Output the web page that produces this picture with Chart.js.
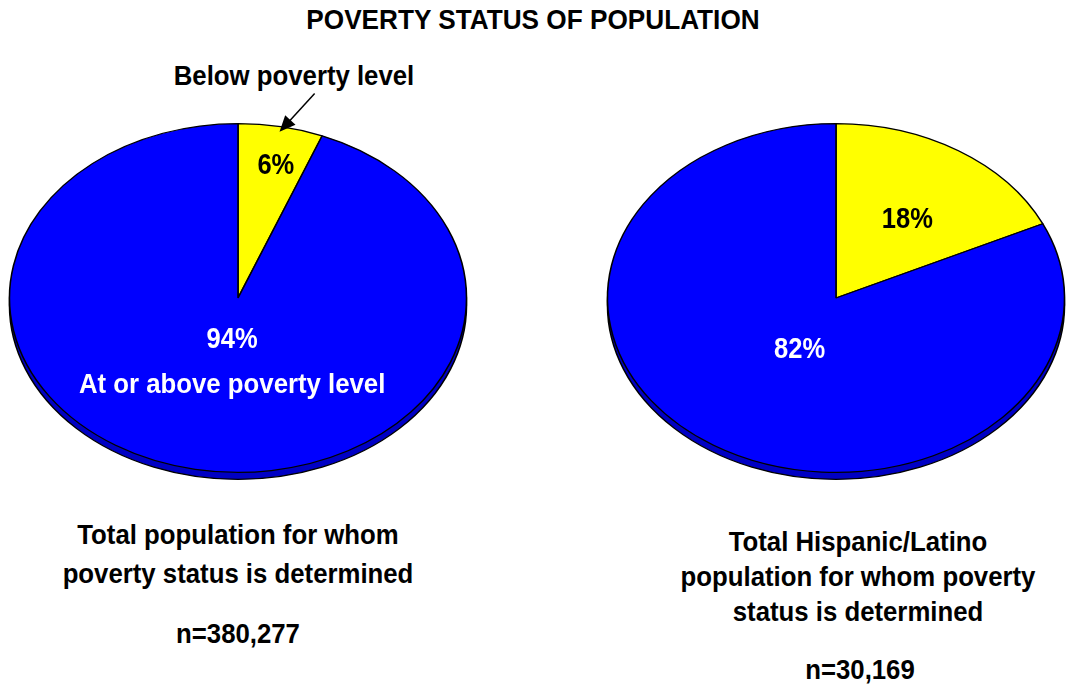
<!DOCTYPE html>
<html>
<head>
<meta charset="utf-8">
<script src="https://cdn.jsdelivr.net/npm/chart.js@4/dist/chart.umd.min.js"></script>
<style>
  body { margin: 0; background: #fff; width: 1066px; height: 692px; position: relative; overflow: hidden;
         font-family: "Liberation Sans Narrow", "Liberation Sans", Arial, sans-serif; font-weight: bold; }
  .t { position: absolute; text-align: center; color: #000; white-space: nowrap; transform: scaleX(0.92); }
</style>
</head>
<body>
<div class="t" style="left:0;width:1066px;top:4px;font-size:28px;transform:scaleX(0.935)">POVERTY STATUS OF POPULATION</div>
<div class="t" style="left:144px;width:300px;top:60px;font-size:28px">Below poverty level</div>

<div class="t" style="left:38px;width:400px;top:515px;font-size:28px;line-height:39px">Total population for whom<br>poverty status is determined</div>
<div class="t" style="left:38px;width:400px;top:618px;font-size:28px">n=380,277</div>

<div class="t" style="left:658px;width:400px;top:524px;font-size:28px;line-height:35px">Total Hispanic/Latino<br>population for whom poverty<br>status is determined</div>
<div class="t" style="left:660px;width:400px;top:654px;font-size:28px">n=30,169</div>

<div style="position:absolute;left:0;top:70px;width:476px;height:450px"><canvas id="pieTotal"></canvas></div>
<div style="position:absolute;left:598px;top:70px;width:476px;height:450px"><canvas id="pieHispanic"></canvas></div>

<script>
/* Poverty status, share of population (%) */
const categories = ["Below poverty level", "At or above poverty level"];
const totalPct = [6, 94];
const hispanicPct = [18, 82];
const sliceColors = ["#ffff00", "#0000ff"];
const labelColors = ["#000000", "#ffffff"];

const FONT = '"Liberation Sans Narrow", "Liberation Sans", Arial, sans-serif';
const SX = 228 / 174; // horizontal stretch to get the flat oval look

function narrowText(ctx, text, x, y, size, squeeze) {
  ctx.save();
  ctx.font = "bold " + size + "px " + FONT;
  ctx.translate(x, y);
  ctx.scale(squeeze, 1);
  ctx.fillText(text, 0, 0);
  ctx.restore();
}

/* squash the round pie into an oval and give it a dark edge underneath */
const ovalPie = {
  id: "ovalPie",
  beforeDatasetsDraw(chart) {
    const ctx = chart.ctx;
    const arc = chart.getDatasetMeta(0).data[0];
    const { x, y, outerRadius } = arc.getProps(["x", "y", "outerRadius"], true);
    ctx.save();
    ctx.translate(x, y);
    ctx.scale(SX, 1);
    ctx.translate(-x, -y);
    // depth edge
    ctx.beginPath();
    ctx.arc(x, y + 7, outerRadius, 0, Math.PI * 2);
    ctx.fillStyle = "#0000c4";
    ctx.fill();
    ctx.lineWidth = 1.2;
    ctx.strokeStyle = "#000";
    ctx.stroke();
  },
  afterDatasetsDraw(chart, args, opts) {
    const ctx = chart.ctx;
    ctx.restore();
    const meta = chart.getDatasetMeta(0);
    const values = chart.data.datasets[0].data;
    ctx.save();
    ctx.textAlign = "center";
    ctx.textBaseline = "middle";
    meta.data.forEach((el, i) => {
      const p = el.getProps(["x", "y", "startAngle", "endAngle", "outerRadius"], true);
      const mid = (p.startAngle + p.endAngle) / 2;
      const f = opts.labelRadius[i];
      const lx = p.x + SX * p.outerRadius * f * Math.cos(mid) + 4;
      const ly = p.y + p.outerRadius * f * Math.sin(mid) + 3;
      ctx.fillStyle = labelColors[i];
      narrowText(ctx, values[i] + "%", lx, ly, 29, 0.88);
      if (opts.innerName && i === 1) {
        narrowText(ctx, categories[1], lx, ly + 45, 28, 0.92);
      }
      if (opts.arrow && i === 0) {
        const r = p.outerRadius;
        const tx = p.x + SX * r * 0.97 * Math.cos(mid);
        const ty = p.y + r * 0.97 * Math.sin(mid);
        const a2 = mid + 0.09;
        const fx = p.x + SX * r * 1.22 * Math.cos(a2);
        const fy = p.y + r * 1.22 * Math.sin(a2);
        const ang = Math.atan2(ty - fy, tx - fx);
        ctx.strokeStyle = "#000";
        ctx.fillStyle = "#000";
        ctx.lineWidth = 1.5;
        ctx.beginPath();
        ctx.moveTo(fx, fy);
        ctx.lineTo(tx - 10 * Math.cos(ang), ty - 10 * Math.sin(ang));
        ctx.stroke();
        ctx.beginPath();
        ctx.moveTo(tx, ty);
        ctx.lineTo(tx - 16 * Math.cos(ang) + 7 * Math.sin(ang), ty - 16 * Math.sin(ang) - 7 * Math.cos(ang));
        ctx.lineTo(tx - 16 * Math.cos(ang) - 7 * Math.sin(ang), ty - 16 * Math.sin(ang) + 7 * Math.cos(ang));
        ctx.closePath();
        ctx.fill();
      }
    });
    ctx.restore();
  }
};

function makePie(id, values, pluginOpts) {
  return new Chart(document.getElementById(id), {
    type: "pie",
    data: {
      labels: categories,
      datasets: [{
        data: values,
        backgroundColor: sliceColors,
        borderColor: "#000",
        borderWidth: 1.2,
        hoverOffset: 0
      }]
    },
    options: {
      responsive: true,
      maintainAspectRatio: false,
      animation: false,
      layout: { padding: { top: 53, bottom: 47 } },
      plugins: {
        legend: { display: false },
        tooltip: { enabled: false },
        ovalPie: pluginOpts
      }
    },
    plugins: [ovalPie]
  });
}

var chartTotal = makePie("pieTotal", totalPct, { labelRadius: [0.79, 0.23], innerName: true, arrow: true });
var chartHispanic = makePie("pieHispanic", hispanicPct, { labelRadius: [0.55, 0.33], innerName: false, arrow: false });
</script>
</body>
</html>
